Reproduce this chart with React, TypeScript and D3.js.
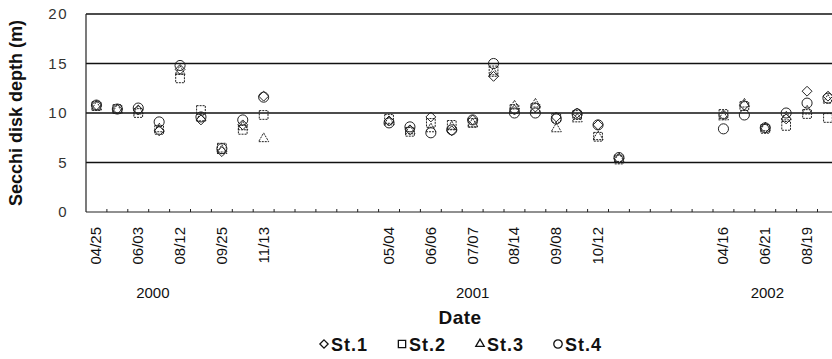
import React from "react";
import * as d3 from "d3";

// one slot per sampling date, only every other one is labelled
const tickLabels = [
  "04/25", "", "06/03", "", "08/12", "", "09/25", "", "11/13",
  "", "", "", "", "",
  "05/04", "", "06/06", "", "07/07", "", "08/14", "", "09/08", "", "10/12", "",
  "", "", "", "",
  "04/16", "", "06/21", "", "08/19", "",
];

const st1 = [
  10.8, 10.4, 10.3, 8.2, 14.4, 9.3, 6.1, 8.8, 11.7,
  null, null, null, null, null,
  9.2, 8.3, 9.6, 8.2, 9.3, 13.7, 10.3, 10.6, 9.6, 10.0, 8.8, 5.4,
  null, null, null, null,
  9.8, 10.8, 8.5, 9.4, 12.2, 11.7,
];
const st2 = [
  10.7, 10.4, 10.0, 8.3, 13.5, 10.3, 6.5, 8.3, 9.8,
  null, null, null, null, null,
  9.4, 8.1, 9.0, 8.8, 9.0, 14.3, 10.4, 10.5, 9.5, 9.8, 7.6, 5.3,
  null, null, null, null,
  9.9, 10.7, 8.4, 8.7, 9.9, 9.5,
];
const st3 = [
  10.6, 10.3, 10.2, 8.4, 14.2, 9.5, 6.2, 8.6, 7.4,
  null, null, null, null, null,
  9.1, 8.2, 8.4, 8.6, 8.9, 14.0, 10.7, 10.9, 8.4, 9.4, 7.6, 5.4,
  null, null, null, null,
  9.6, 10.9, 8.5, 9.6, 10.2, 11.3,
];
const st4 = [
  10.8, 10.4, 10.5, 9.1, 14.8, 9.6, 6.4, 9.3, 11.6,
  null, null, null, null, null,
  9.0, 8.6, 8.0, 8.3, 9.3, 15.0, 10.0, 10.0, 9.4, 9.9, 8.8, 5.5,
  null, null, null, null,
  8.4, 9.8, 8.5, 10.0, 11.0, 11.5,
];

const yTicks = [0, 5, 10, 15, 20];
const years = ["2000", "2001", "2002"];
const yearSlots = [2.7, 18, 32.1];
const stations = ["St.1", "St.2", "St.3", "St.4"];

const W = 832;
const H = 359;
const left = 86;
const top = 14;
const bottom = 212;
const band = 20.9;

const symbols = [d3.symbolDiamond2, d3.symbolSquare, d3.symbolTriangle, d3.symbolCircle];
const sizes = [62, 76, 44, 80];

export default function App() {
  const x = d3
    .scaleBand<number>()
    .domain(d3.range(tickLabels.length))
    .range([left, left + band * tickLabels.length]);
  const y = d3.scaleLinear().domain([0, 20]).range([bottom, top]);
  const bw = x.bandwidth();
  const series = [st1, st2, st3, st4];
  const font = "'Liberation Sans', Arial, sans-serif";

  return (
    <svg
      width={W}
      height={H}
      style={{ position: "absolute", left: 0, top: 0, background: "#fff" }}
      fontFamily={font}
    >
      {/* grid lines */}
      {yTicks.filter((t) => t > 0).map((t) => (
        <line key={t} x1={left} x2={W} y1={y(t)} y2={y(t)} stroke="#111" strokeWidth={1.4} />
      ))}
      <line x1={left} x2={left} y1={top} y2={bottom} stroke="#222" strokeWidth={1.2} />
      <line x1={left} x2={W} y1={bottom} y2={bottom} stroke="#222" strokeWidth={1.2} />
      {d3.range(1, tickLabels.length).map((i) => (
        <line key={i} x1={x(i)} x2={x(i)} y1={bottom} y2={bottom - 3} stroke="#222" />
      ))}

      {/* y axis labels */}
      {yTicks.map((t) => (
        <text key={t} x={68} y={y(t) + 5} textAnchor="end" fontSize={15} fill="#333" letterSpacing={1.5}>
          {t}
        </text>
      ))}
      <text
        transform={`translate(22,${(top + bottom) / 2}) rotate(-90)`}
        textAnchor="middle"
        fontSize={18}
        fontWeight="bold"
        fill="#111"
      >
        Secchi disk depth (m)
      </text>

      {/* x tick labels */}
      {tickLabels.map((lab, i) =>
        lab ? (
          <text
            key={i}
            transform={`translate(${(x(i) ?? 0) + bw / 2 + 5},227) rotate(-90)`}
            textAnchor="end"
            fontSize={15}
            fill="#111"
          >
            {lab}
          </text>
        ) : null
      )}
      {years.map((yr, i) => (
        <text key={yr} x={left + band * (yearSlots[i] + 0.5)} y={298} textAnchor="middle" fontSize={15} fill="#111">
          {yr}
        </text>
      ))}
      <text x={460} y={324} textAnchor="middle" fontSize={19} fontWeight="bold" fill="#111" letterSpacing={0.5}>
        Date
      </text>

      {/* markers */}
      {series.map((vals, s) =>
        vals.map((v, i) =>
          v == null ? null : (
            <path
              key={`${s}-${i}`}
              transform={`translate(${(x(i) ?? 0) + bw / 2},${y(v)})`}
              d={d3.symbol(symbols[s], sizes[s])() ?? ""}
              fill="none"
              stroke="#222"
              strokeWidth={1}
              strokeDasharray={s === 1 || s === 2 ? "2,1" : undefined}
            />
          )
        )
      )}

      {/* legend */}
      {stations.map((name, s) => {
        const lx = 318 + s * 78;
        return (
          <g key={name} transform={`translate(${lx},345)`}>
            <path
              transform="translate(6,-1)"
              d={d3.symbol(symbols[s], sizes[s] * 0.7)() ?? ""}
              fill="none"
              stroke="#111"
              strokeWidth={1.3}
            />
            <text x={13} y={6} fontSize={18} fontWeight="bold" fill="#111" letterSpacing={1}>
              {name}
            </text>
          </g>
        );
      })}
    </svg>
  );
}
